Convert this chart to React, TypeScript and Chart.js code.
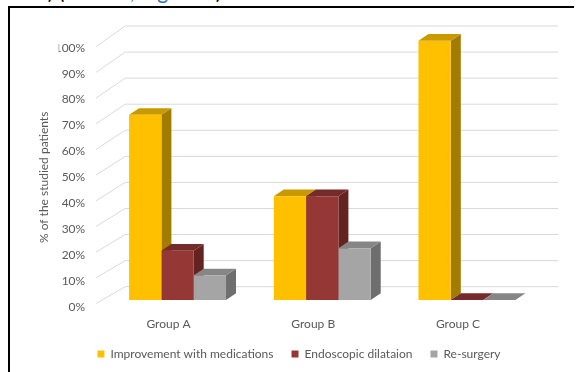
import React, { useEffect, useRef } from "react";
import { Chart, registerables } from "chart.js";

Chart.register(...registerables);

// ---- data ----
const categories = ["Group A", "Group B", "Group C"];
const seriesLabels = ["Improvement with medications", "Endoscopic dilataion", "Re-surgery"];
const improvementValues = [71.4, 40, 100];
const dilatationValues = [19, 40, 0];
const resurgeryValues = [9.5, 20, 0];
const yTickValues = [0, 10, 20, 30, 40, 50, 60, 70, 80, 90, 100];
const yAxisTitle = "% of the studied patients";

// ---- styles ----
const frontColors = ["#FFC000", "#953735", "#A5A5A5"];
const topColors = ["#C99A00", "#752B29", "#868686"];
const sideColors = ["#A27C00", "#642220", "#6E6E6E"];
const FONT = "Lato, 'Open Sans', sans-serif";
const TEXT = "#595959";
const GRID = "#D9D9D9";
const DEPTH_X = 10;
const DEPTH_Y = -6.7;

const threeD = {
  id: "threeD",
  beforeDatasetsDraw(chart: any) {
    const { ctx, chartArea, scales } = chart;
    const ys = scales.y;
    ctx.save();
    ctx.strokeStyle = GRID;
    ctx.lineWidth = 1;
    const wallLeft = chartArea.left + 20;
    const wallRight = chartArea.right + 19;
    const sideFrontX = chartArea.left - 9.2;
    ys.ticks.forEach((t: any) => {
      const v = t.value;
      const p = ys.getPixelForValue(v);
      const yb = p - 13.3 - 0.014 * v;
      const yf = p + 3.5 + 0.025 * v;
      ctx.beginPath();
      ctx.moveTo(sideFrontX, yf);
      ctx.lineTo(wallLeft, yb);
      ctx.lineTo(wallRight, yb);
      ctx.stroke();
    });

    const n = chart.data.labels.length;
    for (let j = 0; j < n; j++) {
      chart.data.datasets.forEach((_ds: any, i: number) => {
        const meta = chart.getDatasetMeta(i);
        const el = meta.data[j];
        if (!el) return;
        const { x, y, base, width } = el.getProps(["x", "y", "base", "width"], true);
        const l = x - width / 2;
        const r = x + width / 2;
        // side face
        ctx.fillStyle = sideColors[i];
        ctx.beginPath();
        ctx.moveTo(r, base);
        ctx.lineTo(r + DEPTH_X, base + DEPTH_Y);
        ctx.lineTo(r + DEPTH_X, y + DEPTH_Y);
        ctx.lineTo(r, y);
        ctx.closePath();
        ctx.fill();
        // top face
        ctx.fillStyle = topColors[i];
        ctx.beginPath();
        ctx.moveTo(l, y);
        ctx.lineTo(l + DEPTH_X, y + DEPTH_Y);
        ctx.lineTo(r + DEPTH_X, y + DEPTH_Y);
        ctx.lineTo(r, y);
        ctx.closePath();
        ctx.fill();
      });
    }
    ctx.restore();
  },
  afterDraw(chart: any) {
    const { ctx, scales } = chart;
    const ys = scales.y;
    const cy = (ys.getPixelForValue(0) + ys.getPixelForValue(100)) / 2 + 7;
    ctx.save();
    ctx.translate(44, cy);
    ctx.rotate(-Math.PI / 2);
    ctx.fillStyle = TEXT;
    ctx.font = `12px ${FONT}`;
    ctx.textAlign = "center";
    ctx.textBaseline = "middle";
    ctx.fillText(yAxisTitle, 0, 0);
    ctx.restore();
  },
};

export default function App() {
  const ref = useRef<HTMLCanvasElement>(null);
  useEffect(() => {
    const seriesValues = [improvementValues, dilatationValues, resurgeryValues];
    const chart = new Chart(ref.current as HTMLCanvasElement, {
      type: "bar",
      data: {
        labels: categories,
        datasets: seriesLabels.map((label, i) => ({
          label,
          data: seriesValues[i],
          backgroundColor: frontColors[i],
          borderWidth: 0,
          barPercentage: 1,
          categoryPercentage: 0.67,
        })),
      },
      options: {
        responsive: false,
        animation: false,
        devicePixelRatio: 1,
        layout: { padding: { left: 58.7, right: 36.7, top: 40.7, bottom: 2 } },
        plugins: {
          tooltip: { enabled: false },
          legend: {
            position: "bottom",
            labels: {
              boxWidth: 7,
              boxHeight: 7,
              padding: 18,
              color: TEXT,
              font: { family: FONT, size: 12 },
            },
          },
        },
        scales: {
          x: {
            afterFit: (s: any) => {
              s.height = 30;
            },
            grid: { display: false, drawTicks: false },
            border: { display: false },
            ticks: { padding: 16.8, labelOffset: -9, color: TEXT, font: { family: FONT, size: 12 } },
          },
          y: {
            min: 0,
            max: 100,
            afterFit: (s: any) => {
              s.width = 46.5;
            },
            afterBuildTicks: (s: any) => {
              s.ticks = yTickValues.map((v) => ({ value: v }));
            },
            grid: { display: false, drawTicks: false },
            border: { display: false },
            ticks: {
              padding: 20,
              labelOffset: 7,
              color: TEXT,
              font: { family: FONT, size: 12 },
              callback: (v: any) => v + "%",
            },
          },
        },
      },
      plugins: [threeD],
    });
    return () => chart.destroy();
  }, []);

  return (
    <div style={{ position: "absolute", left: 0, top: 0, width: 576, height: 372, overflow: "hidden", background: "#fff" }}>
      <div
        style={{
          position: "absolute",
          left: 14,
          top: -20,
          whiteSpace: "nowrap",
          fontFamily: "Lato, sans-serif",
          fontSize: 21,
          lineHeight: "21px",
          color: "#000",
        }}
      >
        ots ) (<span style={{ color: "#2E74B5" }}>Table 8, Figure 8</span>).
      </div>
      <div
        style={{
          position: "absolute",
          left: 8,
          top: 6,
          width: 564,
          height: 400,
          borderLeft: "2px solid #000",
          borderTop: "2px solid #000",
        }}
      />
      <canvas ref={ref} width={576} height={372} style={{ position: "absolute", left: 0, top: 0, width: 576, height: 372 }} />
    </div>
  );
}
